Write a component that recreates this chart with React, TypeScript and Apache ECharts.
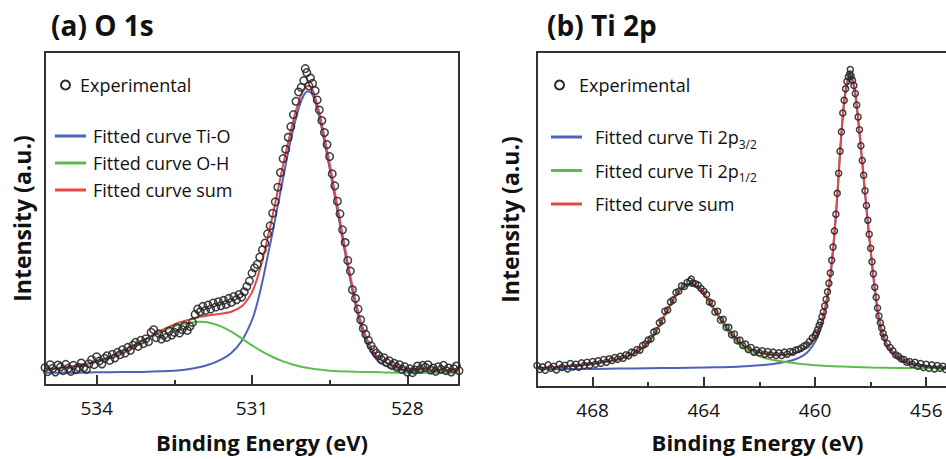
import React, { useEffect, useRef } from "react";
import * as echarts from "echarts";

// ---------- Panel (a) O 1s : [binding energy (eV), intensity (a.u.)] ----------
const o1sTicks = [534, 531, 528];
const o1sMinorTicks = [532.5, 529.5];

const o1sTiO: number[][] = [
  [535.0, 3.7], [534.5, 3.7], [534.0, 3.8], [533.5, 3.9], [533.0, 4.0], [532.6, 4.2], [532.3, 4.6],
  [532.0, 5.4], [531.8, 6.3], [531.6, 7.6], [531.4, 9.6], [531.2, 13.2], [531.0, 19.5], [530.9, 24.5],
  [530.8, 31.0], [530.7, 38.5], [530.6, 46.0], [530.5, 54.0], [530.4, 62.0], [530.3, 70.0], [530.2, 77.0],
  [530.1, 83.0], [530.0, 87.0], [529.92, 88.2], [529.85, 87.6], [529.8, 86.0], [529.7, 80.5], [529.6, 73.0],
  [529.5, 65.0], [529.4, 56.5], [529.3, 48.0], [529.2, 39.5], [529.1, 31.5], [529.0, 24.0], [528.9, 18.0],
  [528.8, 13.3], [528.7, 10.0], [528.6, 7.8], [528.5, 6.4], [528.3, 5.0], [528.0, 4.3], [527.5, 3.9], [527.0, 3.8],
];

const o1sOH: number[][] = [
  [535.0, 4.6], [534.6, 5.3], [534.2, 6.3], [534.0, 7.0], [533.8, 8.0], [533.6, 9.3], [533.4, 10.8],
  [533.2, 12.4], [533.0, 14.0], [532.8, 15.6], [532.6, 17.0], [532.4, 18.1], [532.2, 18.7], [532.0, 19.0],
  [531.9, 18.9], [531.8, 18.6], [531.6, 17.6], [531.4, 16.0], [531.2, 14.0], [531.0, 11.9], [530.8, 10.0],
  [530.6, 8.4], [530.4, 7.1], [530.2, 6.1], [530.0, 5.3], [529.8, 4.8], [529.5, 4.3], [529.0, 4.0],
  [528.5, 3.8], [528.0, 3.7], [527.0, 3.7],
];

const o1sSum: number[][] = [
  [535.0, 4.6], [534.6, 5.3], [534.2, 6.4], [534.0, 7.1], [533.8, 8.2], [533.6, 9.5], [533.4, 11.0],
  [533.2, 12.6], [533.0, 14.3], [532.8, 16.0], [532.6, 17.5], [532.4, 18.8], [532.2, 19.7], [532.0, 20.5],
  [531.8, 21.0], [531.6, 21.4], [531.4, 22.0], [531.2, 23.6], [531.1, 25.4], [531.0, 27.8], [530.9, 32.0],
  [530.8, 37.5], [530.7, 44.0], [530.6, 51.0], [530.5, 58.5], [530.4, 66.0], [530.3, 73.0], [530.2, 79.5],
  [530.1, 85.0], [530.0, 88.8], [529.92, 89.8], [529.85, 89.2], [529.8, 87.4], [529.7, 81.8], [529.6, 74.5],
  [529.5, 66.5], [529.4, 58.0], [529.3, 49.5], [529.2, 41.0], [529.1, 32.8], [529.0, 25.3], [528.9, 19.2],
  [528.8, 14.6], [528.7, 11.2], [528.6, 9.0], [528.5, 7.5], [528.3, 6.0], [528.0, 5.0], [527.5, 4.6], [527.0, 4.5],
];

const o1sExp: number[][] = [
  [535.00, 5.2], [534.95, 4.0], [534.90, 6.1], [534.85, 5.0], [534.80, 3.9], [534.75, 6.0], [534.70, 5.4],
  [534.65, 4.3], [534.60, 6.2], [534.55, 5.0], [534.50, 4.1], [534.45, 5.9], [534.40, 4.6], [534.35, 5.3],
  [534.30, 6.6], [534.25, 5.2], [534.20, 4.7], [534.15, 6.4], [534.10, 7.6], [534.05, 6.1], [534.00, 8.5],
  [533.95, 7.2], [533.90, 6.3], [533.85, 8.0], [533.80, 8.8], [533.75, 7.4], [533.70, 9.2], [533.65, 8.1],
  [533.60, 9.8], [533.55, 9.1], [533.50, 10.6], [533.45, 9.6], [533.40, 11.3], [533.35, 10.4], [533.30, 12.0],
  [533.25, 12.8], [533.20, 11.6], [533.15, 13.4], [533.10, 12.4], [533.05, 13.9], [533.00, 13.0], [532.95, 15.8],
  [532.90, 16.6], [532.85, 14.2], [532.80, 15.4], [532.75, 13.8], [532.70, 15.0], [532.65, 14.3], [532.60, 16.2],
  [532.55, 15.0], [532.50, 15.8], [532.45, 17.2], [532.40, 15.6], [532.35, 16.6], [532.30, 17.8], [532.25, 16.4],
  [532.20, 17.6], [532.15, 18.8], [532.10, 21.2], [532.05, 22.8], [532.00, 22.0], [531.95, 23.6], [531.90, 22.4],
  [531.85, 24.0], [531.80, 22.8], [531.75, 24.6], [531.70, 23.4], [531.65, 25.0], [531.60, 23.8], [531.55, 25.4],
  [531.50, 24.2], [531.45, 26.0], [531.40, 24.8], [531.35, 26.6], [531.30, 25.6], [531.25, 27.2], [531.20, 26.4],
  [531.15, 28.0], [531.10, 29.6], [531.05, 31.2], [531.00, 33.6], [530.95, 35.2], [530.90, 36.2], [530.85, 38.4],
  [530.80, 40.6], [530.75, 42.6], [530.70, 45.4], [530.65, 47.8], [530.60, 51.6], [530.55, 55.0], [530.50, 59.4],
  [530.45, 63.8], [530.40, 68.0], [530.35, 70.8], [530.30, 74.4], [530.25, 77.6], [530.20, 81.2], [530.15, 85.2],
  [530.10, 88.0], [530.05, 89.4], [530.00, 91.4], [529.97, 95.0], [529.94, 93.8], [529.90, 89.8], [529.87, 92.2],
  [529.83, 90.6], [529.78, 88.4], [529.74, 85.6], [529.70, 82.6], [529.65, 79.4], [529.60, 75.8], [529.55, 72.2],
  [529.50, 68.6], [529.45, 63.4], [529.40, 59.8], [529.35, 55.2], [529.30, 51.4], [529.25, 46.6], [529.20, 42.8],
  [529.15, 37.4], [529.10, 34.2], [529.06, 28.6], [529.00, 26.0], [528.95, 22.8], [528.90, 19.6], [528.85, 17.0],
  [528.80, 15.2], [528.75, 13.4], [528.70, 11.8], [528.65, 10.6], [528.60, 9.6], [528.55, 8.8], [528.50, 7.6],
  [528.45, 8.2], [528.40, 6.8], [528.35, 7.3], [528.30, 5.9], [528.25, 6.5], [528.20, 5.3], [528.15, 6.1],
  [528.10, 4.7], [528.05, 5.5], [528.00, 3.9], [527.95, 4.9], [527.90, 3.7], [527.85, 4.5], [527.80, 5.7],
  [527.75, 4.7], [527.70, 5.9], [527.65, 5.3], [527.60, 6.1], [527.55, 4.5], [527.50, 5.1], [527.45, 4.1],
  [527.40, 5.5], [527.35, 4.7], [527.30, 5.9], [527.25, 4.3], [527.20, 5.1], [527.15, 3.9], [527.10, 4.9],
  [527.05, 5.7], [527.00, 4.3],
];

// ---------- Panel (b) Ti 2p ----------
const ti2pTicks = [468, 464, 460, 456];
const ti2pMinorTicks = [466, 462, 458];

const ti2p32: number[][] = [
  [470, 5.3], [469, 5.35], [468, 5.4], [467, 5.5], [466, 5.6], [465, 5.7], [464, 5.85], [463, 6.0],
  [462.5, 6.2], [462, 6.5], [461.5, 6.9], [461, 7.6], [460.7, 8.3], [460.4, 9.5], [460.2, 11.0], [460.0, 13.4],
  [459.9, 15.2], [459.8, 17.6], [459.7, 20.8], [459.6, 24.6], [459.5, 29.4], [459.4, 36.4], [459.3, 45.5],
  [459.2, 56.5], [459.1, 69.5], [459.0, 80.5], [458.9, 88.0], [458.8, 91.6], [458.73, 92.2], [458.6, 89.6],
  [458.5, 83.6], [458.4, 75.6], [458.3, 66.6], [458.2, 57.6], [458.1, 48.6], [458.0, 40.6], [457.9, 32.6],
  [457.8, 25.6], [457.7, 20.0], [457.6, 16.4], [457.5, 13.9], [457.4, 11.9], [457.2, 9.9], [457.0, 8.5],
  [456.8, 7.5], [456.5, 6.6], [456.0, 5.9], [455.5, 5.6], [455.0, 5.5],
];

const ti2p12: number[][] = [
  [470, 5.5], [469.5, 5.8], [469, 6.1], [468.5, 6.4], [468, 6.8], [467.5, 7.5], [467, 8.3], [466.6, 9.5],
  [466.2, 11.6], [466, 13.2], [465.8, 15.4], [465.6, 18.2], [465.4, 21.4], [465.2, 24.4], [465, 27.2],
  [464.8, 29.1], [464.6, 30.1], [464.45, 30.4], [464.3, 30.0], [464.1, 28.6], [463.9, 26.4], [463.7, 23.8],
  [463.5, 21.2], [463.3, 18.7], [463.1, 16.3], [462.9, 14.2], [462.7, 12.5], [462.5, 11.2], [462.3, 10.2],
  [462, 9.2], [461.7, 8.4], [461.4, 7.9], [461, 7.4], [460.5, 6.9], [460, 6.5], [459, 6.1], [458, 5.85],
  [457, 5.7], [456, 5.6], [455, 5.5],
];

const ti2pSum: number[][] = [
  [470, 5.6], [469.5, 5.9], [469, 6.2], [468.5, 6.5], [468, 6.9], [467.5, 7.6], [467, 8.5], [466.6, 9.7],
  [466.2, 11.9], [466, 13.5], [465.8, 15.7], [465.6, 18.5], [465.4, 21.8], [465.2, 24.8], [465, 27.6],
  [464.8, 29.6], [464.6, 30.6], [464.45, 30.9], [464.3, 30.5], [464.1, 29.1], [463.9, 26.9], [463.7, 24.4],
  [463.5, 21.8], [463.3, 19.4], [463.1, 17.0], [462.9, 15.0], [462.7, 13.3], [462.5, 12.1], [462.3, 11.1],
  [462, 10.3], [461.7, 9.6], [461.4, 9.4], [461.0, 9.6], [460.8, 10.0], [460.6, 10.6], [460.4, 11.5],
  [460.2, 12.8], [460.0, 14.8], [459.9, 16.4], [459.8, 18.6], [459.7, 21.6], [459.6, 25.4], [459.5, 30.2],
  [459.4, 37.2], [459.3, 46.3], [459.2, 57.2], [459.1, 70.2], [459.0, 81.2], [458.9, 88.8], [458.8, 92.4],
  [458.73, 93.0], [458.6, 90.4], [458.5, 84.4], [458.4, 76.4], [458.3, 67.4], [458.2, 58.4], [458.1, 49.4],
  [458.0, 41.4], [457.9, 33.4], [457.8, 26.4], [457.7, 20.8], [457.6, 17.2], [457.5, 14.6], [457.4, 12.6],
  [457.2, 10.5], [457.0, 9.0], [456.8, 8.0], [456.5, 7.0], [456.0, 6.3], [455.5, 5.9], [455.0, 5.7],
];

const ti2pExp: number[][] = [
  [470.0, 6.4], [469.9, 5.2], [469.8, 6.0], [469.7, 5.0], [469.6, 6.6], [469.5, 5.6], [469.4, 6.2],
  [469.3, 5.1], [469.2, 6.8], [469.1, 5.8], [469.0, 6.5], [468.9, 5.4], [468.8, 7.0], [468.7, 6.0],
  [468.6, 6.8], [468.5, 5.9], [468.4, 7.2], [468.3, 6.4], [468.2, 7.4], [468.1, 6.5], [468.0, 7.6],
  [467.9, 6.8], [467.8, 7.8], [467.7, 7.1], [467.6, 8.2], [467.5, 7.4], [467.4, 8.4], [467.3, 7.9],
  [467.2, 8.8], [467.1, 8.3], [467.0, 9.2], [466.9, 8.6], [466.8, 9.6], [466.7, 9.3], [466.6, 10.4],
  [466.5, 10.2], [466.4, 11.2], [466.3, 11.0], [466.2, 12.4], [466.1, 12.8], [466.0, 14.0], [465.9, 14.4],
  [465.8, 16.4], [465.7, 16.8], [465.6, 19.2], [465.5, 19.8], [465.4, 22.6], [465.3, 23.0], [465.2, 25.4],
  [465.1, 26.0], [465.0, 28.2], [464.9, 28.6], [464.8, 30.2], [464.7, 30.0], [464.6, 31.2], [464.5, 31.6],
  [464.45, 32.2], [464.4, 31.0], [464.3, 30.8], [464.2, 30.4], [464.1, 29.4], [464.0, 28.6], [463.9, 27.6],
  [463.8, 25.4], [463.7, 25.0], [463.6, 22.4], [463.5, 22.6], [463.4, 20.0], [463.3, 20.2], [463.2, 17.8],
  [463.1, 17.8], [463.0, 15.6], [462.9, 15.8], [462.8, 13.8], [462.7, 14.0], [462.6, 12.4], [462.5, 12.8],
  [462.4, 11.2], [462.3, 11.8], [462.2, 10.4], [462.1, 11.0], [462.0, 10.2], [461.9, 10.8], [461.8, 9.8],
  [461.7, 10.6], [461.6, 9.6], [461.5, 10.4], [461.4, 9.4], [461.3, 10.2], [461.2, 9.4], [461.1, 10.4],
  [461.0, 9.8], [460.9, 10.6], [460.8, 10.4], [460.7, 11.0], [460.6, 11.2], [460.5, 11.6], [460.4, 12.2],
  [460.3, 12.6], [460.2, 13.6], [460.1, 14.6], [460.0, 15.4], [459.95, 16.2], [459.9, 17.2], [459.85, 18.4],
  [459.8, 19.4], [459.75, 21.0], [459.7, 22.4], [459.65, 24.2], [459.6, 26.2], [459.55, 28.4], [459.5, 31.0],
  [459.45, 34.0], [459.4, 37.8], [459.35, 41.8], [459.3, 46.6], [459.25, 51.6], [459.2, 57.8], [459.15, 63.8],
  [459.1, 70.4], [459.05, 76.2], [459.0, 81.8], [458.95, 85.6], [458.9, 89.0], [458.85, 91.2], [458.8, 92.6],
  [458.75, 93.4], [458.73, 94.8], [458.7, 92.8], [458.65, 91.6], [458.6, 90.0], [458.55, 87.6], [458.5, 84.2],
  [458.45, 80.6], [458.4, 76.8], [458.35, 72.0], [458.3, 67.6], [458.25, 63.2], [458.2, 58.6], [458.15, 54.2],
  [458.1, 49.8], [458.05, 45.6], [458.0, 41.4], [457.95, 37.4], [457.9, 33.8], [457.85, 29.8], [457.8, 26.8],
  [457.75, 23.6], [457.7, 21.2], [457.65, 19.2], [457.6, 17.6], [457.55, 16.0], [457.5, 14.8], [457.4, 13.0],
  [457.3, 11.8], [457.2, 10.8], [457.1, 9.6], [457.0, 9.2], [456.9, 8.4], [456.8, 8.2], [456.7, 7.4],
  [456.6, 7.6], [456.5, 6.8], [456.4, 7.4], [456.3, 6.2], [456.2, 7.0], [456.1, 5.8], [456.0, 6.8],
  [455.9, 5.6], [455.8, 6.6], [455.7, 5.4], [455.6, 6.4], [455.5, 5.6], [455.4, 6.2], [455.3, 5.2],
  [455.2, 6.0], [455.1, 5.6], [455.0, 5.8],
];

const FONT = "'Open Sans', 'Noto Sans', sans-serif";
const BLUE = "#4d62bd";
const GREEN = "#5cbd4c";
const RED = "#e8474a";
const FRAME = "#333333";

export default function App() {
  const ref = useRef<HTMLDivElement>(null);

  useEffect(() => {
    if (!ref.current) return;
    const chart = echarts.init(ref.current, null, { renderer: "svg" });

    const majorAxis = (grid: number, min: number, max: number, ticks: number[], nameShift: number, gap: number) => ({
      type: "value",
      gridIndex: grid,
      min,
      max,
      inverse: true,
      position: "bottom",
      axisLine: { show: false },
      splitLine: { show: false },
      axisTick: { show: true, inside: true, length: 10, customValues: ticks, lineStyle: { color: FRAME, width: 2 } },
      axisLabel: { show: true, customValues: ticks, fontSize: 19, color: "#111", fontFamily: FONT, margin: 13 },
      name: "Binding Energy (eV)",
      nameLocation: "middle",
      nameGap: gap,
      nameTextStyle: { fontSize: 22, fontWeight: "bold", color: "#111", fontFamily: FONT, padding: [0, 0, 0, nameShift] },
    });
    const minorAxis = (grid: number, min: number, max: number, ticks: number[]) => ({
      type: "value",
      gridIndex: grid,
      min,
      max,
      inverse: true,
      position: "bottom",
      axisLine: { show: false },
      splitLine: { show: false },
      axisLabel: { show: false },
      axisTick: { show: true, inside: true, length: 5, customValues: ticks, lineStyle: { color: FRAME, width: 2 } },
    });
    const yAx = (grid: number, gap: number) => ({
      type: "value",
      gridIndex: grid,
      min: 0,
      max: 100,
      axisLine: { show: false },
      axisTick: { show: false },
      axisLabel: { show: false },
      splitLine: { show: false },
      name: "Intensity (a.u.)",
      nameLocation: "middle",
      nameRotate: 90,
      nameGap: gap,
      nameTextStyle: { fontSize: 23, fontWeight: "bold", color: "#111", fontFamily: FONT },
    });

    const line = (name: string, data: number[][], color: string, xi: number, yi: number) => ({
      type: "line",
      name,
      data,
      xAxisIndex: xi,
      yAxisIndex: yi,
      smooth: 0.4,
      symbol: "none",
      showSymbol: false,
      color,
      lineStyle: { color, width: 2 },
      z: 3,
    });
    const scatter = (data: number[][], xi: number, yi: number, size: number) => ({
      type: "scatter",
      name: "Experimental",
      data,
      xAxisIndex: xi,
      yAxisIndex: yi,
      symbol: "circle",
      symbolSize: size,
      itemStyle: { color: "rgba(255,255,255,0)", borderColor: "#2a2a2a", borderWidth: 1.5, opacity: 0.9 },
      z: 4,
    });

    const legendText = { fontSize: 18, color: "#111", fontFamily: FONT, lineHeight: 18 };
    const expLegendItem = {
      name: "Experimental",
      icon: "circle",
      itemStyle: { color: "#fff", borderColor: "#111", borderWidth: 2 },
    };

    chart.setOption({
      animation: false,
      backgroundColor: "#ffffff",
      title: [
        { text: "(a) O 1s", left: 51, top: 11, padding: 0, textStyle: { fontSize: 28, fontWeight: "bold", color: "#111", fontFamily: FONT } },
        { text: "(b) Ti 2p", left: 547, top: 11, padding: 0, textStyle: { fontSize: 28, fontWeight: "bold", color: "#111", fontFamily: FONT } },
      ],
      grid: [
        { left: 45, top: 52, width: 414, height: 333, show: true, borderColor: FRAME, borderWidth: 2, backgroundColor: "#fff", outerBoundsMode: "none" },
        { left: 537, top: 52, width: 417, height: 335, show: true, borderColor: FRAME, borderWidth: 2, backgroundColor: "#fff", outerBoundsMode: "none" },
      ],
      legend: [
        {
          data: [expLegendItem], orient: "vertical", left: 60, top: 76, padding: 0,
          itemWidth: 9, itemHeight: 9, selectedMode: false,
          textStyle: { ...legendText, padding: [0, 0, 0, 5] },
        },
        {
          data: ["Fitted curve Ti-O", "Fitted curve O-H", "Fitted curve sum"], orient: "vertical",
          left: 55, top: 127, padding: 0, itemGap: 9, icon: "rect", itemWidth: 31, itemHeight: 3,
          selectedMode: false, textStyle: { ...legendText, padding: [0, 0, 0, 2] },
        },
        {
          data: [expLegendItem], orient: "vertical", left: 554, top: 76, padding: 0,
          itemWidth: 9, itemHeight: 9, selectedMode: false,
          textStyle: { ...legendText, padding: [0, 0, 0, 10] },
        },
        {
          data: ["Fitted curve Ti 2p3/2", "Fitted curve Ti 2p1/2", "Fitted curve sum"], orient: "vertical",
          left: 551, top: 124, padding: 0, itemGap: 7.5, icon: "rect", itemWidth: 31, itemHeight: 3,
          selectedMode: false,
          formatter: (n: string) => {
            const m = n.match(/^(.*2p)(\d\/\d)$/);
            return m ? `{a|${m[1]}}{s|${m[2]}}` : `{a|${n}}{s| }`;
          },
          textStyle: {
            ...legendText,
            padding: [0, 0, 0, 8],
            rich: {
              a: { fontSize: 18, color: "#111", fontFamily: FONT, lineHeight: 18 },
              s: { fontSize: 12, color: "#111", fontFamily: FONT, lineHeight: 12, padding: [14, 0, 0, 0] },
            },
          },
        },
      ],
      xAxis: [
        majorAxis(0, 527, 535, o1sTicks, 20, 46),
        minorAxis(0, 527, 535, o1sMinorTicks),
        majorAxis(1, 455, 470, ti2pTicks, 24, 44),
        minorAxis(1, 455, 470, ti2pMinorTicks),
      ],
      yAxis: [yAx(0, 12), yAx(1, 16)],
      series: [
        line("Fitted curve Ti-O", o1sTiO, BLUE, 0, 0),
        line("Fitted curve O-H", o1sOH, GREEN, 0, 0),
        line("Fitted curve sum", o1sSum, RED, 0, 0),
        scatter(o1sExp, 0, 0, 7.5),
        line("Fitted curve Ti 2p3/2", ti2p32, BLUE, 2, 1),
        line("Fitted curve Ti 2p1/2", ti2p12, GREEN, 2, 1),
        line("Fitted curve sum", ti2pSum, RED, 2, 1),
        scatter(ti2pExp, 2, 1, 6),
      ],
    });

    return () => chart.dispose();
  }, []);

  return (
    <div
      ref={ref}
      style={{ position: "fixed", left: 0, top: 0, width: 946, height: 459, background: "#fff" }}
    />
  );
}
